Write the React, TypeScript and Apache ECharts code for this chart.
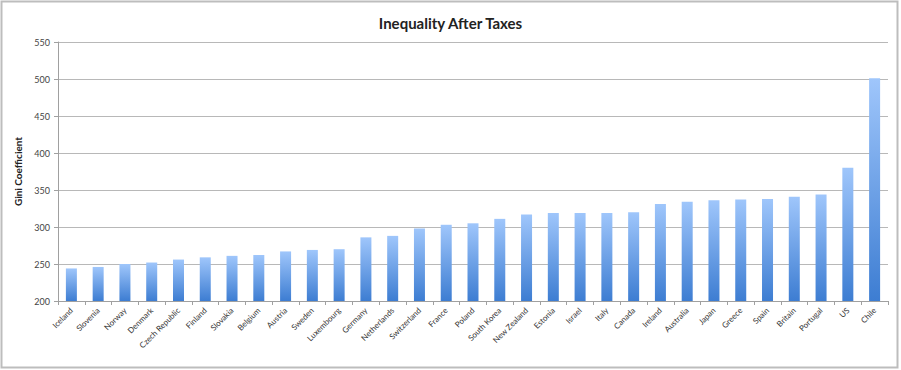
import React, { useEffect, useRef } from "react";
import * as echarts from "echarts";

const categories = [
  "Iceland", "Slovenia", "Norway", "Denmark", "Czech Republic", "Finland", "Slovakia",
  "Belgium", "Austria", "Sweden", "Luxembourg", "Germany", "Netherlands", "Switzerland",
  "France", "Poland", "South Korea", "New Zealand", "Estonia", "Israel", "Italy", "Canada",
  "Ireland", "Australia", "Japan", "Greece", "Spain", "Britain", "Portugal", "US", "Chile",
];
const giniValues = [
  244, 246, 250, 252, 256, 259, 261, 262, 267, 269, 270, 286, 288, 298, 303, 305, 311,
  317, 319, 319, 319, 320, 331, 334, 336, 337, 338, 341, 344, 380, 501,
];
const yMin = 200;
const yMax = 550;
const yInterval = 50;

export default function App() {
  const ref = useRef<HTMLDivElement>(null);
  useEffect(() => {
    if (!ref.current) return;
    const chart = echarts.init(ref.current, null, { renderer: "svg" });
    const font = "Lato, 'Open Sans', sans-serif";
    chart.setOption({
      animation: false,
      backgroundColor: "#ffffff",
      title: {
        text: "Inequality After Taxes",
        left: "center",
        top: 10,
        textStyle: { fontFamily: font, fontSize: 15, fontWeight: "bold", color: "#222" },
      },
      graphic: [
        {
          type: "rect",
          shape: { x: 1.5, y: 1.5, width: 896, height: 366 },
          style: { fill: "none", stroke: "#bdbdbd", lineWidth: 2 },
          silent: true,
        },
      ],
      grid: { left: 58, right: 13, top: 42, bottom: 69 },
      xAxis: {
        type: "category",
        data: categories,
        axisLine: { lineStyle: { color: "#a0a0a0" } },
        axisTick: { show: true, alignWithLabel: false, length: 4, lineStyle: { color: "#a0a0a0" } },
        axisLabel: {
          rotate: 45,
          interval: 0,
          margin: 8,
          fontFamily: font,
          fontSize: 8,
          color: "#333",
        },
      },
      yAxis: {
        type: "value",
        min: yMin,
        max: yMax,
        interval: yInterval,
        name: "Gini Coefficient",
        nameLocation: "middle",
        nameGap: 31,
        nameTextStyle: { fontFamily: font, fontSize: 10, fontWeight: "bold", color: "#222" },
        axisLine: { show: true, lineStyle: { color: "#a0a0a0" } },
        axisTick: { show: true, length: 4, lineStyle: { color: "#a0a0a0" } },
        axisLabel: { fontFamily: font, fontSize: 9, color: "#444", margin: 8 },
        splitLine: { lineStyle: { color: "#b8b8b8", width: 1 } },
      },
      series: [
        {
          type: "bar",
          data: giniValues,
          barWidth: 11,
          itemStyle: {
            color: new echarts.graphic.LinearGradient(0, 0, 0, 1, [
              { offset: 0, color: "#9fc6fb" },
              { offset: 1, color: "#3d7dd2" },
            ]),
          },
        },
      ],
    });
    return () => chart.dispose();
  }, []);
  return (
    <div style={{ position: "absolute", left: 0, top: 0 }}>
      <div ref={ref} style={{ width: 901, height: 370 }} />
    </div>
  );
}
